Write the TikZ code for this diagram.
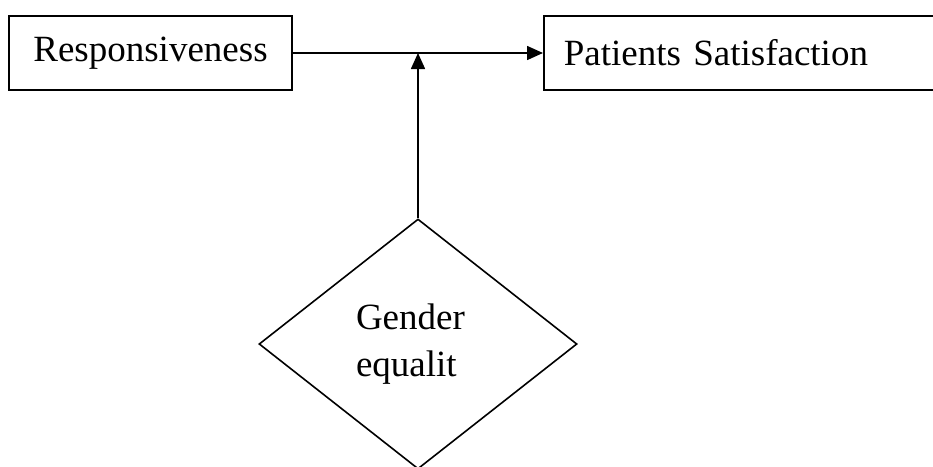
\documentclass[tikz,border=0pt]{standalone}
\usepackage{fontspec}
\setmainfont{Liberation Serif}
\usetikzlibrary{shapes.geometric,arrows.meta}
\begin{document}
\begin{tikzpicture}[x=1pt,y=-1pt,
  every node/.style={font=\fontsize{37}{47}\selectfont},
  box/.style={draw,line width=1.6pt,minimum height=74pt,inner sep=0pt},
  dia/.style={draw,diamond,line width=1.6pt,minimum width=318pt,minimum height=250pt,inner sep=0pt,text width=124pt,align=left},
  conn/.style={line width=1.6pt,-{Triangle[length=16pt,width=14pt]}}]
\useasboundingbox (0,0) rectangle (933,466);
\clip (0,0) rectangle (933,466);
\node[box,minimum width=283pt] (L) at (150.5,53) {Responsiveness};
\node[box,anchor=west,text width=377pt,inner xsep=20pt,align=left] (R) at (543,53) {Patients Satisfaction};
\node[dia] (D) at (418,344) {Gender\\equalit};
\coordinate (M) at (D.north |- L.east);
\draw[conn] (L.east) -- (R.west);
\draw[conn] (D.north) -- (M);
\end{tikzpicture}
\end{document}
